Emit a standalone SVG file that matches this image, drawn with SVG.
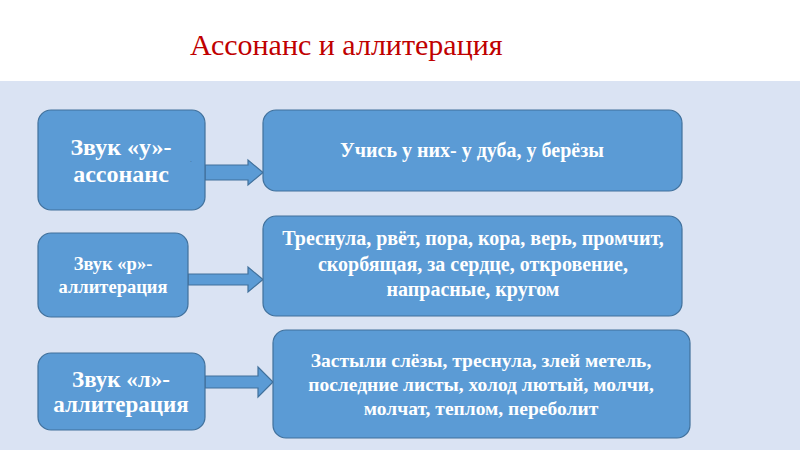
<svg xmlns="http://www.w3.org/2000/svg" width="800" height="450" viewBox="0 0 800 450">
<style>
.box{fill:#5b9bd5;stroke:#41719c;stroke-width:1.2}
.arr{fill:#5b9bd5;stroke:#41719c;stroke-width:1.2}
.t{font-family:"Liberation Serif","Times New Roman",serif;font-weight:bold;fill:#ffffff;text-anchor:middle}
.title{font-family:"Liberation Serif","Times New Roman",serif;fill:#c00000;font-size:30px}
</style>
<rect x="0" y="0" width="800" height="81" fill="#ffffff"/>
<rect x="0" y="81" width="800" height="369" fill="#dae3f3"/>
<text class="title" x="190" y="55">Ассонанс и аллитерация</text>
<g id="connectors">
<path class="arr" d="M205,165 H248 V160 L263,172.5 L248,185 V180 H205 Z"/>
<path class="arr" d="M188,274 H248 V267 L263,279.5 L248,292 V285 H188 Z"/>
<path class="arr" d="M205,376 H258 V367 L273,382 L258,397 V388 H205 Z"/>
</g>
<g id="n1">
<rect class="box" x="38" y="110" width="167" height="100" rx="13"/>
<text class="t" x="121" y="155" font-size="24">Звук «у»-</text>
<text class="t" x="121" y="182" font-size="24">ассонанс</text>
<text x="190" y="162" font-family="Liberation Serif,serif" font-size="8" fill="#41719c">.</text>
</g>
<g id="n2">
<rect class="box" x="263" y="110" width="419" height="81" rx="13"/>
<text class="t" x="472" y="157" font-size="20">Учись у них- у дуба, у берёзы</text>
</g>
<g id="n3">
<rect class="box" x="38" y="233" width="150" height="84" rx="13"/>
<text class="t" x="113" y="270" font-size="18.5">Звук «р»-</text>
<text class="t" x="113" y="293" font-size="18.5">аллитерация</text>
</g>
<g id="n4">
<rect class="box" x="263" y="216" width="419" height="100" rx="13"/>
<text class="t" x="473" y="245" font-size="20">Треснула, рвёт, пора, кора, верь, промчит,</text>
<text class="t" x="473" y="271" font-size="20">скорбящая, за сердце, откровение,</text>
<text class="t" x="473" y="296" font-size="20">напрасные, кругом</text>
</g>
<g id="n5">
<rect class="box" x="38" y="353" width="167" height="77" rx="13"/>
<text class="t" x="121" y="387" font-size="23">Звук «л»-</text>
<text class="t" x="121" y="412" font-size="23">аллитерация</text>
</g>
<g id="n6">
<rect class="box" x="273" y="330" width="417" height="108" rx="13"/>
<text class="t" x="481" y="367" font-size="19.5">Застыли слёзы, треснула, злей метель,</text>
<text class="t" x="481" y="391" font-size="19.5">последние листы, холод лютый, молчи,</text>
<text class="t" x="481" y="415" font-size="19.5">молчат, теплом, переболит</text>
</g>
</svg>
